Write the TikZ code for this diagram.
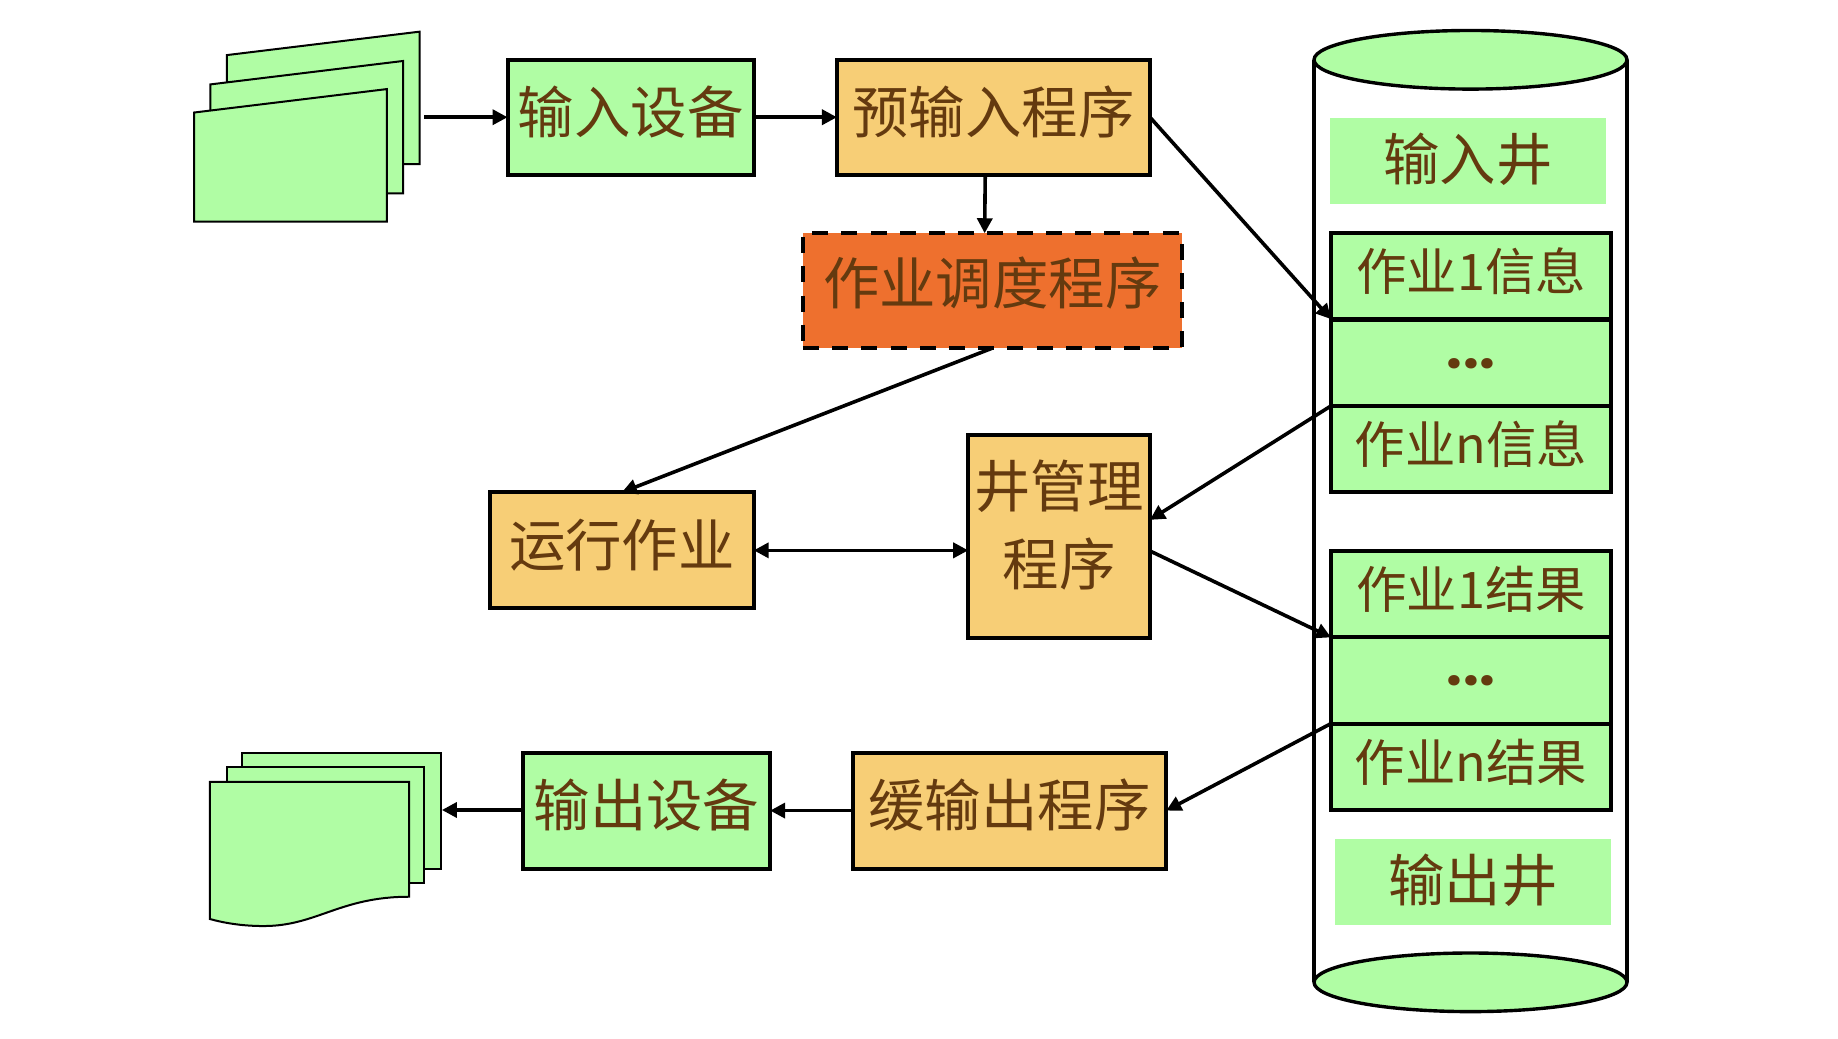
\documentclass[tikz,border=0pt]{standalone}
\usepackage{fontspec}
\setmainfont{Noto Sans CJK SC}
\newfontfamily\dotsfont{Poppins}
\usetikzlibrary{arrows.meta}
\definecolor{lgreen}{HTML}{B0FDA4}
\definecolor{lyellow}{HTML}{F7CE76}
\definecolor{dorange}{HTML}{EE702E}
\definecolor{tbrown}{HTML}{643A0F}
\newlength{\uu}
\setlength{\uu}{0.5861pt}
\newcommand{\bigtxt}{\fontsize{28.2}{39}\selectfont}
\newcommand{\smalltxt}{\fontsize{25.2}{30}\selectfont}
\newcommand{\upp}[2][7.5pt]{\raisebox{#1}{#2}}
\newcommand{\dotrow}{\raisebox{-5.5pt}{\dotsfont\bfseries\fontsize{28}{28}\selectfont\makebox[8.3pt]{.}\makebox[8.3pt]{.}\makebox[8.3pt]{.}}}
\tikzset{
  basebox/.style={draw=black,line width=2pt,inner sep=0pt,outer sep=0pt,text=tbrown,font=\bigtxt},
  greenbox/.style={basebox,fill=lgreen},
  yellowbox/.style={basebox,fill=lyellow},
  orangebox/.style={basebox,fill=dorange,dash pattern=on 8pt off 6.6pt},
  cell/.style={basebox,fill=lgreen,font=\smalltxt,minimum width=239*\uu,minimum height=73.5*\uu},
  label/.style={fill=lgreen,inner sep=0pt,text=tbrown,font=\bigtxt,minimum width=235*\uu,minimum height=73*\uu},
  paper/.style={draw=black,line width=1pt,fill=lgreen,line join=miter},
  conn/.style={draw=black,line width=1.8pt,-{Triangle[length=7.5pt,width=7.5pt]}},
  conn2/.style={draw=black,line width=1.8pt,{Triangle[length=7.5pt,width=7.5pt]}-{Triangle[length=7.5pt,width=7.5pt]}},
  cyl/.style={draw=black,line width=1.7pt},
}
\begin{document}
\begin{tikzpicture}[x=0.5861pt,y=-0.5861pt]
\useasboundingbox (0,0) rectangle (1568,886);
% input paper stack
\draw[paper] (193.5,47) -- (358,27) -- (358,140) -- (193.5,140) -- cycle;
\draw[paper] (179.5,72) -- (344,52) -- (344,165) -- (179.5,165) -- cycle;
\draw[paper] (165.5,96) -- (330,76) -- (330,189) -- (165.5,189) -- cycle;
\coordinate (paperIn) at (362,100);
% output paper stack
\draw[paper] (206.5,642) rectangle (376.5,741);
\draw[paper] (193.5,654) rectangle (362,753);
\draw[paper] (179,667) -- (349,667) -- (349,765) .. controls (290,765) and (270,790) .. (225,790) .. controls (205,790) and (190,787) .. (179,784) -- cycle;
\coordinate (paperOut) at (377,691);
% spool cylinder
\draw[cyl] (1121,51) -- (1121,838);
\draw[cyl] (1388,51) -- (1388,838);
\draw[cyl,fill=lgreen] (1254.5,51) ellipse [x radius=133.5,y radius=25];
\draw[cyl,fill=lgreen] (1254.5,838) ellipse [x radius=133.5,y radius=25];
\node[label] (inwell) at (1252.5,137.5) {\upp[4pt]{输入井}};
\node[label] (outwell) at (1256.5,752.5) {\upp[4.5pt]{输出井}};
\node[cell] (info1) at (1255,235.5) {\upp[6.8pt]{作业1信息}};
\node[cell] (infod) at (1255,309.5) {\dotrow};
\node[cell] (infon) at (1255,383) {\upp[6.8pt]{作业n信息}};
\node[cell] (res1) at (1255,507) {\upp[6.8pt]{作业1结果}};
\node[cell] (resd) at (1255,580.5) {\dotrow};
\node[cell] (resn) at (1255,654) {\upp[6.8pt]{作业n结果}};
% boxes
\node[greenbox,minimum width=210*\uu,minimum height=98*\uu] (indev) at (538,100) {\upp{输入设备}};
\node[yellowbox,minimum width=267*\uu,minimum height=98*\uu] (pre) at (847.5,100) {\upp{预输入程序}};
\node[orangebox,minimum width=323*\uu,minimum height=98*\uu] (sched) at (846.5,248) {\upp[10pt]{作业调度程序}};
\node[yellowbox,minimum width=225*\uu,minimum height=99*\uu] (run) at (530.5,469.5) {\upp{运行作业}};
\node[yellowbox,minimum width=155*\uu,minimum height=173*\uu] (mgr) at (903.5,457.5) {\rule[-38pt]{0pt}{1pt}\begin{tabular}{@{}c@{}}井管理\\程序\end{tabular}};
\node[greenbox,minimum width=211*\uu,minimum height=99*\uu] (outdev) at (551.5,691.5) {\upp{输出设备}};
\node[yellowbox,minimum width=267.5*\uu,minimum height=99*\uu] (buf) at (861.2,691.5) {\upp{缓输出程序}};
% connector ends on box sides
\coordinate (mgrA) at ([yshift=14*\uu]mgr.east);
\coordinate (mgrB) at ([yshift=-12.5*\uu]mgr.east);
\coordinate (preS) at ([xshift=-7*\uu]pre.south);
\coordinate (schedN) at ([xshift=-6.5*\uu]sched.north);
\coordinate (paperOutEnd) at (paperOut -| outdev.west);
% connectors
\draw[conn] (paperIn) -- (paperIn -| indev.west);
\draw[conn] (indev.east) -- (pre.west);
\draw[conn] (preS) -- (schedN);
\draw[conn] (sched.south) -- (run.north);
\draw[conn2] (run.east) -- (run.east -| mgr.west);
\draw[conn] (pre.east) -- (info1.south west);
\draw[conn] (infod.south west) -- (mgrA);
\draw[conn] (mgrB) -- (res1.south west);
\draw[conn] (resd.south west) -- (buf.east);
\draw[conn] (buf.west) -- (outdev.east);
\draw[conn] (paperOutEnd) -- (paperOut);
\end{tikzpicture}
\end{document}
